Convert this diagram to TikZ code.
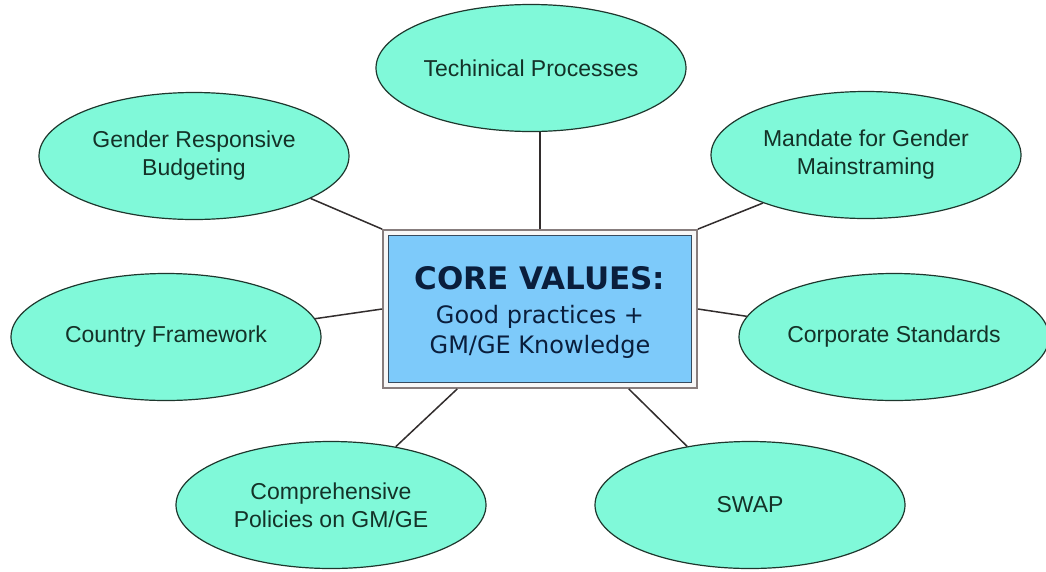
\documentclass[tikz,border=0pt]{standalone}
\usepackage{fontspec}
\setmainfont{Liberation Sans}
\newfontfamily\boxfont{DejaVu Sans}
\usetikzlibrary{shapes.geometric}
\definecolor{ellfill}{RGB}{128,249,217}
\definecolor{ellline}{RGB}{30,55,45}
\definecolor{elltext}{RGB}{20,50,40}
\definecolor{boxfill}{RGB}{125,202,250}
\definecolor{boxline}{RGB}{55,75,95}
\definecolor{frameline}{RGB}{135,125,125}
\definecolor{boxtext}{RGB}{10,30,60}
\definecolor{linkcol}{RGB}{50,45,45}
\begin{document}
\begin{tikzpicture}[x=1pt,y=-1pt,
  topic/.style={ellipse, draw=ellline, line width=1.2pt, fill=ellfill,
    minimum width=310pt, minimum height=127pt, inner sep=0pt, align=center,
    text=elltext, font=\fontsize{23}{28}\selectfont},
  link/.style={draw=linkcol, line width=1.5pt}]
\useasboundingbox (0,0) rectangle (1046,571);
\fill[white] (0,0) rectangle (1046,571);

% central box
\node[draw=frameline, fill=white!94!gray, line width=1.8pt, minimum width=314pt,
      minimum height=158pt, inner sep=0pt] (box) at (540,309) {};
\node[draw=boxline, fill=boxfill, line width=1.6pt, minimum width=303pt,
      minimum height=147pt, inner sep=0pt] (inner) at (540,309) {};
\node[align=center, text=boxtext, font=\boxfont\fontsize{24}{30}\selectfont, inner sep=0pt] (core) at (540,312)
  {{\fontsize{31}{36}\selectfont\bfseries CORE VALUES:}\\[4pt]
   Good practices +\\ GM/GE Knowledge};

% topics
\node[topic] (tech)    at (531,68)  {Techinical Processes};
\node[topic] (grb)     at (194,156) {Gender Responsive\\Budgeting};
\node[topic] (mandate) at (866,155) {Mandate for Gender\\Mainstraming};
\node[topic] (country) at (166,337) {Country Framework};
\node[topic] (corp)    at (894,337) {Corporate Standards};
\node[topic] (comp)    at (331,505) {Comprehensive\\Policies on GM/GE};
\node[topic] (swap)    at (750,505) {SWAP};

% connectors
\draw[link] (box.north) -- (box.north |- tech.south);
\draw[link] (box.north west) -- (grb.-20);
\draw[link] (box.north east) -- (mandate.205);
\draw[link] (box.west) -- (country.7);
\draw[link] (box.east) -- (corp.172);
\draw[link] (box.-136) -- (comp.42);
\draw[link] (box.-42) -- (swap.137);
\end{tikzpicture}
\end{document}
